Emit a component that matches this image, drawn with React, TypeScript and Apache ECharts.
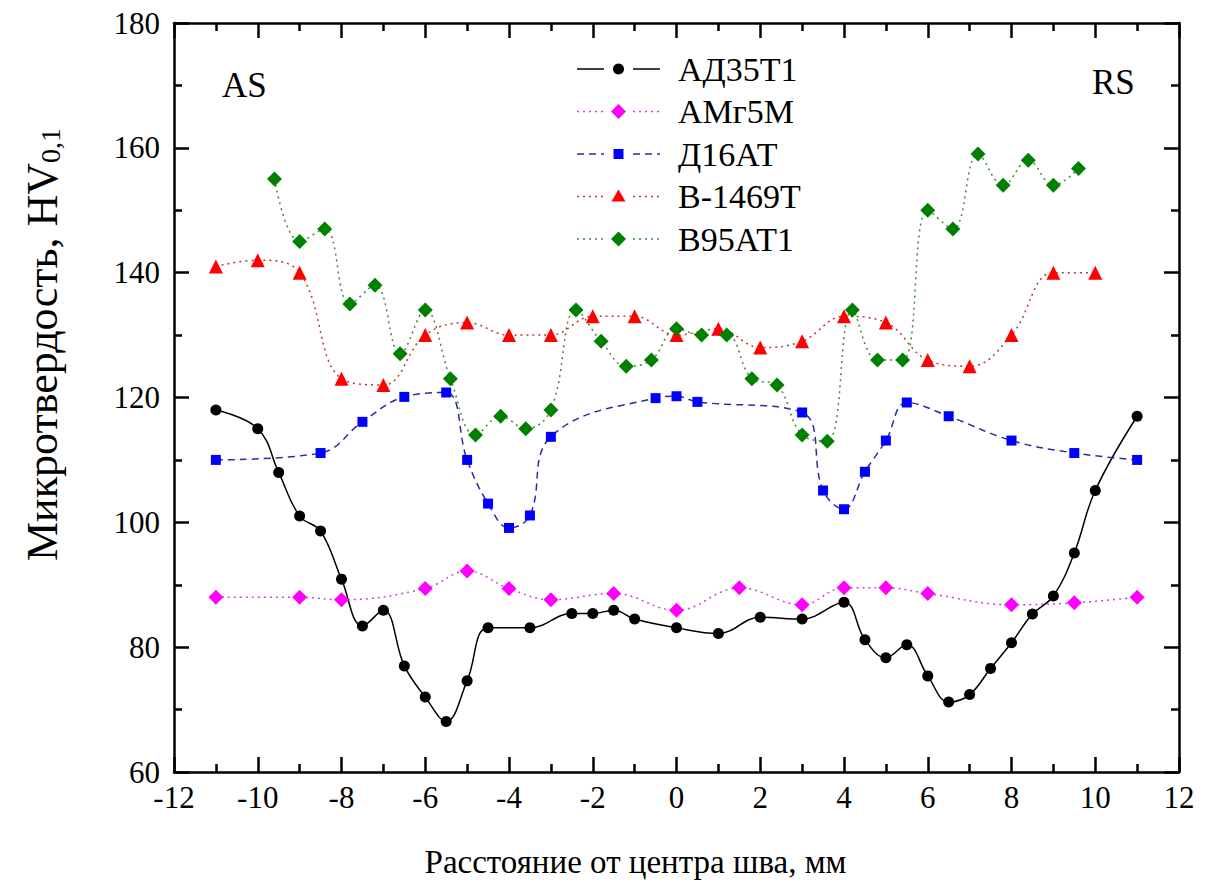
import React, { useEffect, useRef } from "react";
import * as echarts from "echarts";

// АД35Т1
const xAD35 = [-11, -10, -9.5, -9, -8.5, -8, -7.5, -7, -6.5, -6, -5.5, -5, -4.5, -3.5, -2.5, -2, -1.5, -1, 0, 1, 2, 3, 4, 4.5, 5, 5.5, 6, 6.5, 7, 7.5, 8, 8.5, 9, 9.5, 10, 11];
const yAD35 = [118, 115, 108, 101, 98.6, 90.9, 83.4, 85.9, 77, 72, 68.1, 74.6, 83.1, 83.1, 85.4, 85.4, 85.9, 84.5, 83.1, 82.2, 84.8, 84.5, 87.2, 81.2, 78.3, 80.4, 75.4, 71.2, 72.4, 76.6, 80.7, 85.3, 88.2, 95.1, 105.1, 117];
// АМг5М
const xAMg = [-11, -9, -8, -6, -5, -4, -3, -1.5, 0, 1.5, 3, 4, 5, 6, 8, 9.5, 11];
const yAMg = [88, 88, 87.6, 89.4, 92.2, 89.4, 87.6, 88.6, 85.9, 89.5, 86.8, 89.5, 89.5, 88.6, 86.8, 87.1, 88];
// Д16АТ
const xD16 = [-11, -8.5, -7.5, -6.5, -5.5, -5, -4.5, -4, -3.5, -3, -0.5, 0, 0.5, 3, 3.5, 4, 4.5, 5, 5.5, 6.5, 8, 9.5, 11];
const yD16 = [110, 111.1, 116.1, 120.1, 120.8, 110, 103, 99.1, 101.1, 113.7, 119.9, 120.2, 119.3, 117.6, 105.1, 102.1, 108.1, 113.1, 119.2, 117, 113.1, 111.1, 110];
// В-1469Т
const xB1469 = [-11, -10, -9, -8, -7, -6, -5, -4, -3, -2, -1, 0, 1, 2, 3, 4, 5, 6, 7, 8, 9, 10];
const yB1469 = [141, 142, 140, 123, 122, 130, 132, 130, 130, 133, 133, 130, 131, 128, 129, 133, 132, 126, 125, 130, 140, 140];
// В95АТ1
const xB95 = [-9.6, -9, -8.4, -7.8, -7.2, -6.6, -6, -5.4, -4.8, -4.2, -3.6, -3, -2.4, -1.8, -1.2, -0.6, 0, 0.6, 1.2, 1.8, 2.4, 3, 3.6, 4.2, 4.8, 5.4, 6, 6.6, 7.2, 7.8, 8.4, 9, 9.6];
const yB95 = [155, 145, 147, 135, 138, 127, 134, 123, 114, 117, 115, 118, 134, 129, 125, 126, 131, 130, 130, 123, 122, 114, 113, 134, 126, 126, 150, 147, 159, 154, 158, 154, 156.7];

const seriesNames = ["АД35Т1", "АМг5М", "Д16АТ", "В-1469Т", "В95АТ1"];
const xTitle = "Расстояние от центра шва, мм";
const yTitleMain = "Микротвердость, HV";
const yTitleSub = "0,1";
const leftNote = "AS";
const rightNote = "RS";

function pairs(xs: number[], ys: number[]) {
  return xs.map((x, i) => [x, ys[i]]);
}

export default function App() {
  const ref = useRef<HTMLDivElement>(null);
  useEffect(() => {
    const chart = echarts.init(ref.current!, null, { renderer: "svg" });
    const font = "Liberation Serif";
    const lineW = 2.5;
    const tickCommon = {
      axisLine: { show: true, onZero: false, lineStyle: { color: "#000", width: lineW } },
      axisTick: { show: true, inside: true, length: 15, lineStyle: { color: "#000", width: lineW } },
      minorTick: { show: true, splitNumber: 2, length: 8, lineStyle: { color: "#000", width: lineW } },
      splitLine: { show: false },
      minorSplitLine: { show: false },
    };
    const styles = [
      { symbol: "circle", size: 11, color: "#000000", line: "#000000", dash: "solid" as any },
      { symbol: "diamond", size: 15, color: "#FF00FF", line: "#D040D0", dash: [2, 4] },
      { symbol: "rect", size: 10, color: "#0000FF", line: "#2A2AA8", dash: [7, 5] },
      { symbol: "triangle", size: 14, color: "#FF0000", line: "#C83232", dash: [2, 4] },
      { symbol: "diamond", size: 15, color: "#008000", line: "#3C8A3C", dash: [2, 4] },
    ];
    const datasets = [
      pairs(xAD35, yAD35),
      pairs(xAMg, yAMg),
      pairs(xD16, yD16),
      pairs(xB1469, yB1469),
      pairs(xB95, yB95),
    ];

    // legend drawn as graphic (line – symbol – line, then name)
    const graphics: any[] = [];
    const lgX = 577;
    const lgTop = 69;
    const lgStep = 42.5;
    seriesNames.forEach((name, i) => {
      const cy = lgTop + i * lgStep;
      const st = styles[i];
      const dash = Array.isArray(st.dash) ? st.dash : null;
      graphics.push({
        type: "line",
        silent: true,
        shape: { x1: lgX, y1: cy, x2: lgX + 27, y2: cy },
        style: { stroke: st.line, lineWidth: 1.5, lineDash: dash },
      });
      graphics.push({
        type: "line",
        silent: true,
        shape: { x1: lgX + 56, y1: cy, x2: lgX + 83, y2: cy },
        style: { stroke: st.line, lineWidth: 1.5, lineDash: dash },
      });
      const cx = lgX + 41.5;
      if (st.symbol === "circle") {
        graphics.push({ type: "circle", silent: true, shape: { cx, cy, r: 5.5 }, style: { fill: st.color } });
      } else if (st.symbol === "rect") {
        graphics.push({ type: "rect", silent: true, shape: { x: cx - 5, y: cy - 5, width: 10, height: 10 }, style: { fill: st.color } });
      } else if (st.symbol === "triangle") {
        graphics.push({
          type: "polygon",
          silent: true,
          shape: { points: [[cx, cy - 7], [cx + 7, cy + 5], [cx - 7, cy + 5]] },
          style: { fill: st.color },
        });
      } else {
        graphics.push({
          type: "polygon",
          silent: true,
          shape: { points: [[cx, cy - 7.5], [cx + 7.5, cy], [cx, cy + 7.5], [cx - 7.5, cy]] },
          style: { fill: st.color },
        });
      }
      graphics.push({
        type: "text",
        x: lgX + 101,
        y: cy,
        silent: true,
        style: { text: name, fontSize: 34, fontFamily: font, fill: "#000", align: "left", verticalAlign: "middle" },
      });
    });
    graphics.push({ type: "text", left: 222, top: 68, style: { text: leftNote, fontSize: 35, fontFamily: font, fill: "#000" } });
    graphics.push({ type: "text", left: 1092, top: 65, style: { text: rightNote, fontSize: 35, fontFamily: font, fill: "#000" } });

    chart.setOption({
      animation: false,
      backgroundColor: "#fff",
      textStyle: { fontFamily: font },
      grid: { left: 174, right: 31, top: 23, bottom: 120, containLabel: false },
      xAxis: [
        {
          type: "value",
          min: -12,
          max: 12,
          interval: 2,
          position: "bottom",
          ...tickCommon,
          axisLabel: { fontSize: 31, fontFamily: font, color: "#000", margin: 10 },
          name: xTitle,
          nameLocation: "middle",
          nameGap: 73,
          nameTextStyle: { fontSize: 33, fontFamily: font, color: "#000", padding: [0, 82, 0, 0] },
        },
        { type: "value", min: -12, max: 12, interval: 2, position: "top", ...tickCommon, axisLabel: { show: false } },
      ],
      yAxis: [
        {
          type: "value",
          min: 60,
          max: 180,
          interval: 20,
          position: "left",
          ...tickCommon,
          axisLabel: { fontSize: 31, fontFamily: font, color: "#000", margin: 14 },
          name: "{a|" + yTitleMain + "}{b|" + yTitleSub + "}",
          nameLocation: "middle",
          nameGap: 110,
          nameRotate: 90,
          nameTextStyle: {
            color: "#000",
            fontFamily: font,
            padding: [0, 0, 0, 106],
            rich: {
              a: { fontSize: 44, fontFamily: font, color: "#000" },
              b: { fontSize: 28, fontFamily: font, color: "#000", verticalAlign: "bottom" },
            },
          },
        },
        { type: "value", min: 60, max: 180, interval: 20, position: "right", ...tickCommon, axisLabel: { show: false } },
      ],
      graphic: graphics,
      series: datasets.map((d, i) => ({
        name: seriesNames[i],
        type: "line",
        data: d,
        smooth: 0.4,
        showAllSymbol: true,
        symbol: styles[i].symbol,
        symbolSize: styles[i].size,
        itemStyle: { color: styles[i].color },
        lineStyle: { color: styles[i].line, width: 1.5, type: styles[i].dash },
      })),
    });

    return () => chart.dispose();
  }, []);
  return (
    <div
      ref={ref}
      style={{ position: "fixed", left: 0, top: 0, width: 1210, height: 892, background: "#fff" }}
    />
  );
}
